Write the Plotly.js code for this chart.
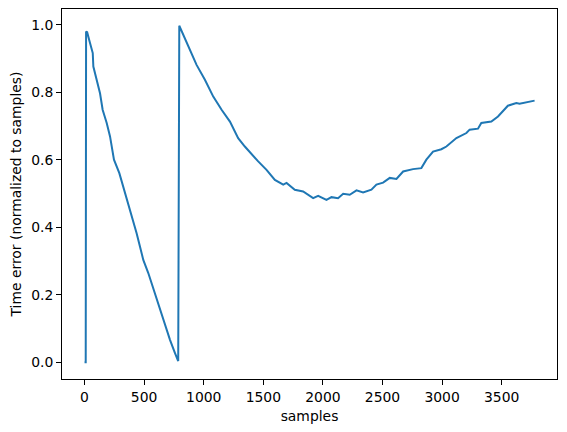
<!DOCTYPE html>
<html>
<head>
<meta charset="utf-8">
<script src="https://cdn.plot.ly/plotly-3.0.1.min.js"></script>
<style>html,body{margin:0;padding:0;background:#fff;}#chart{width:567px;height:432px;}</style>
</head>
<body>
<div id="chart"></div>
<script>
const samples = [0, 10, 13, 22, 46, 60, 69, 74, 102, 130, 152, 186, 214, 236, 247, 292, 325, 367, 404, 437, 465, 493, 535, 572, 605, 647, 689, 717, 759, 778, 786,
  795, 870, 940, 1010, 1080, 1150, 1220, 1289, 1345, 1457, 1527, 1597, 1667, 1695, 1764, 1834, 1918, 1960, 2030, 2072, 2127, 2170, 2225, 2282, 2337, 2407, 2449, 2505, 2561, 2617, 2673, 2756, 2826, 2868, 2924, 2994, 3036, 3120, 3204, 3231, 3301, 3329, 3413, 3469, 3510, 3552, 3623, 3650, 3776];
const timeError = [0, 0, 0.980, 0.978, 0.946, 0.926, 0.916, 0.876, 0.837, 0.797, 0.748, 0.709, 0.669, 0.629, 0.600, 0.560, 0.521, 0.471, 0.422, 0.382, 0.343, 0.303, 0.264, 0.224, 0.185, 0.145, 0.096, 0.066, 0.027, 0.007, 0.003,
  0.997, 0.936, 0.881, 0.837, 0.787, 0.748, 0.713, 0.664, 0.639, 0.595, 0.570, 0.540, 0.526, 0.531, 0.511, 0.506, 0.486, 0.493, 0.481, 0.489, 0.486, 0.499, 0.496, 0.509, 0.503, 0.511, 0.526, 0.532, 0.546, 0.543, 0.565, 0.572, 0.575, 0.600, 0.624, 0.631, 0.639, 0.664, 0.679, 0.689, 0.692, 0.709, 0.713, 0.728, 0.743, 0.760, 0.768, 0.766, 0.775];
const xTicks = [0, 500, 1000, 1500, 2000, 2500, 3000, 3500];
const yTicks = [0, 0.2, 0.4, 0.6, 0.8, 1.0];

const font = {family: 'DejaVu Sans', size: 13.9, color: '#000'};
Plotly.newPlot('chart', [{
  x: samples, y: timeError, type: 'scatter', mode: 'lines',
  line: {color: '#1f77b4', width: 2}
}], {
  width: 567, height: 432,
  margin: {l: 62, r: 10, t: 9, b: 53},
  paper_bgcolor: '#fff', plot_bgcolor: '#fff',
  font: font,
  showlegend: false,
  xaxis: {
    range: [-189, 3964], tickvals: xTicks, ticktext: xTicks.map(String),
    showgrid: false, zeroline: false, showline: true, mirror: true, linecolor: '#000', linewidth: 1,
    ticks: 'outside', ticklen: 5, tickcolor: '#000', tickfont: font,
    title: {text: 'samples', font: font, standoff: 7}
  },
  yaxis: {
    range: [-0.05, 1.0466], tickvals: yTicks, ticktext: yTicks.map(v => v.toFixed(1)),
    showgrid: false, zeroline: false, showline: true, mirror: true, linecolor: '#000', linewidth: 1,
    ticks: 'outside', ticklen: 5, tickcolor: '#000', tickfont: font,
    title: {text: 'Time error (normalized to samples)', font: font, standoff: 6}
  }
}, {staticPlot: true});
</script>
</body>
</html>
